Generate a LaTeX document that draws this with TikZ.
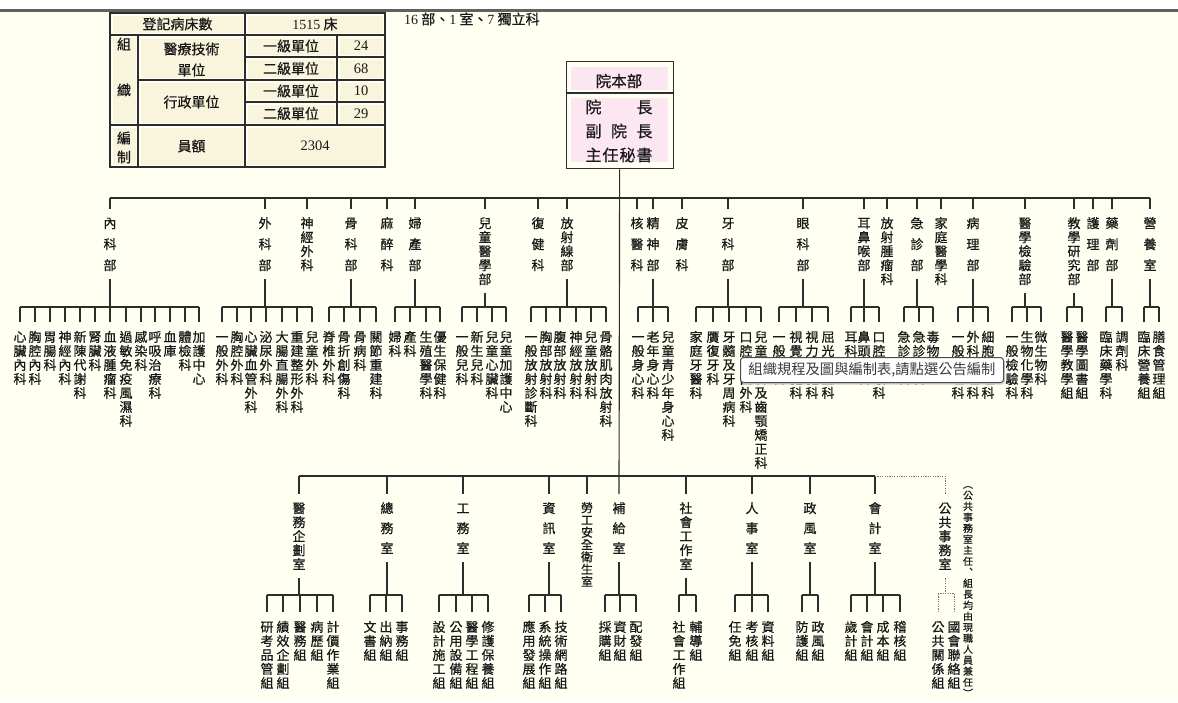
\documentclass[tikz,border=0pt]{standalone}
\usepackage{fontspec}
\setmainfont{Liberation Serif}
\newfontfamily\cjk[FakeBold=0.6]{Noto Sans CJK TC}
\newfontfamily\cjktip{Noto Sans CJK TC}
\newcommand\fs[1]{\fontsize{#1}{#1}\selectfont}
\ExplSyntaxOn
\tl_new:N \l_vtx_tl
\NewDocumentCommand\vt{O{14pt}m}{
  \tl_set:Nx \l_vtx_tl {#2}
  \vbox{
    \baselineskip=#1\relax
    \lineskiplimit=-100pt\relax
    \lineskip=0pt\relax
    \tl_map_inline:Nn \l_vtx_tl {\hbox~to~1em{\hss\rule[-0.12em]{0pt}{1em}##1\hss}}
  }
}
\ExplSyntaxOff
\definecolor{bgc}{RGB}{255,255,242}
\definecolor{cellc}{RGB}{249,244,220}
\definecolor{pinkc}{RGB}{252,230,242}
\definecolor{lnc}{RGB}{45,45,45}
\definecolor{tx}{RGB}{25,25,25}
\tikzset{
  conn/.style={draw=lnc, line width=1.15pt},
  dotconn/.style={draw=lnc!65, line width=1pt, dash pattern=on 1.2pt off 1.2pt},
  dept/.style={anchor=north, inner xsep=0pt, inner ysep=7.5pt, font=\cjk\fs{13}, text=tx},
  kid/.style={anchor=north, inner xsep=0pt, inner ysep=8.2pt, font=\cjk\fs{13}, text=tx},
  tt/.style={font=\cjk\fs{14}, text=tx, inner sep=0pt},
  tbl/.style={draw=lnc, line width=1.2pt},
  hqt/.style={font=\cjk\fs{16}, text=tx, inner sep=0pt},
}
% #1 style, #2 parent, #3 bus y, #4 kid north y, #5 count, #6 list
\newcommand\kids[6][conn]{%
  \coordinate (#2-bus) at (0,#3);
  \foreach \x/\lb [count=\i] in {#6}{%
    \node[kid] (#2-\i) at (\x,#4) {\vt{\lb}};
    \draw[#1] (#2-\i.north) -- (#2-\i.north |- #2-bus);
  }
  \draw[#1] (#2-1.north |- #2-bus) -- (#2-#5.north |- #2-bus);
  \draw[#1] (#2.south) -- (#2.south |- #2-bus);
}
\begin{document}
\begin{tikzpicture}[x=1pt,y=-1pt]
\useasboundingbox (0,0) rectangle (1178,702);
\fill[bgc] (0,0) rectangle (1178,702);
\fill[white] (0,0) rectangle (1178,10);
\draw[line width=2.2pt, draw=gray!75!black] (0,10.5) -- (1178,10.5);

% ---------- summary table ----------
\foreach \a/\b/\c/\d in {110/13/245/35, 245/13/385/35, 110/35/138/125, 138/35/245/80, 138/80/245/125, 245/35/337/57, 337/35/385/57, 245/57/337/80, 337/57/385/80, 245/80/337/102, 337/80/385/102, 245/102/337/125, 337/102/385/125, 110/125/138/167, 138/125/245/167, 245/125/385/167}
  \fill[cellc] (\a+2.5,\b+2.5) rectangle (\c-2.5,\d-2.5);
\draw[tbl] (110,13) rectangle (385,167);
\draw[tbl] (110,35) -- (385,35);
\draw[tbl] (245,57) -- (385,57);
\draw[tbl] (138,80) -- (385,80);
\draw[tbl] (245,102) -- (385,102);
\draw[tbl] (110,125) -- (385,125);
\draw[tbl] (138,35) -- (138,167);
\draw[tbl] (245,13) -- (245,167);
\draw[tbl] (337,35) -- (337,125);
\node[tt] (t1) at (177.5,24) {登記病床數};
\node[tt] (t2) at (315,24) {{\rmfamily 1515} 床};
\node[tt] (t3) at (124,44) {組};
\node[tt] (t4) at (124,90) {織};
\node[tt] (t5) at (191.5,49) {醫療技術};
\node[tt] (t6) at (191.5,70) {單位};
\node[tt] (t7) at (191.5,102) {行政單位};
\node[tt] (t8) at (291,46) {一級單位};
\node[tt] (t9) at (291,68.5) {二級單位};
\node[tt] (t10) at (291,91) {一級單位};
\node[tt] (t11) at (291,113.5) {二級單位};
\node[tt, font=\rmfamily\fs{14.5}] (t12) at (361,46) {24};
\node[tt, font=\rmfamily\fs{14.5}] (t13) at (361,68.5) {68};
\node[tt, font=\rmfamily\fs{14.5}] (t14) at (361,91) {10};
\node[tt, font=\rmfamily\fs{14.5}] (t15) at (361,113.5) {29};
\node[tt] (t16) at (124,138) {編};
\node[tt] (t17) at (124,157) {制};
\node[tt] (t18) at (191.5,146) {員額};
\node[tt, font=\rmfamily\fs{14.5}] (t19) at (315,146) {2304};
\node[tt, anchor=west, font=\cjk\fs{14}] (sum) at (404,19) {{\rmfamily 16} 部、{\rmfamily 1} 室、{\rmfamily 7} 獨立科};

% ---------- head office ----------
\fill[pinkc] (570.5,67) rectangle (667.5,90);
\fill[pinkc] (570.5,98) rectangle (667.5,162);
\node[draw=lnc, line width=1.3pt, minimum width=107pt, minimum height=107pt, inner sep=0pt, anchor=north west] (hq) at (565.5,61) {};
\draw[conn] (hq.west |- 0,93) -- (hq.east |- 0,93);
\node[hqt, font=\cjk\fs{15.5}] (hq1) at (619,81) {院本部};
\node[hqt] (hq2) at (619,107) {\makebox[67pt]{院\hfill 長}};
\node[hqt] (hq3) at (619,131) {\makebox[67pt]{副\hfill 院\hfill 長}};
\node[hqt] (hq4) at (619,155) {\makebox[67pt]{主\hfill 任\hfill 秘\hfill 書}};

% ---------- medical departments ----------
\coordinate (tb) at (0,198);
\node[dept] (nk) at (110,209) {\vt[21pt]{內科部}};
\node[dept] (wk) at (265,209) {\vt[21pt]{外科部}};
\node[dept] (sj) at (307,209) {\vt{神經外科}};
\node[dept] (gk) at (351,209) {\vt[21pt]{骨科部}};
\node[dept] (mz) at (387,209) {\vt[21pt]{麻醉科}};
\node[dept] (fc) at (415,209) {\vt[21pt]{婦產部}};
\node[dept] (et) at (485,209) {\vt{兒童醫學部}};
\node[dept] (fj) at (538,209) {\vt[21pt]{復健科}};
\node[dept] (fs) at (567,209) {\vt{放射線部}};
\node[dept] (hy) at (637,209) {\vt[21pt]{核醫科}};
\node[dept] (js) at (653,209) {\vt[21pt]{精神部}};
\node[dept] (pf) at (682,209) {\vt[21pt]{皮膚科}};
\node[dept] (yk) at (728,209) {\vt[21pt]{牙科部}};
\node[dept] (ek) at (803,209) {\vt[21pt]{眼科部}};
\node[dept] (eb) at (864,209) {\vt{耳鼻喉部}};
\node[dept] (fz) at (887,209) {\vt{放射腫瘤科}};
\node[dept] (jz) at (917,209) {\vt[21pt]{急診部}};
\node[dept] (jt) at (941,209) {\vt{家庭醫學科}};
\node[dept] (bl) at (973,209) {\vt[21pt]{病理部}};
\node[dept] (yj) at (1025,209) {\vt{醫學檢驗部}};
\node[dept] (jy) at (1074,209) {\vt{教學研究部}};
\node[dept] (hl) at (1093,209) {\vt[21pt]{護理部}};
\node[dept] (yz) at (1112,209) {\vt[21pt]{藥劑部}};
\node[dept] (yy) at (1150,209) {\vt[21pt]{營養室}};
\draw[conn] (nk.north |- tb) -- (yy.north |- tb);
\foreach \n in {nk,wk,sj,gk,mz,fc,et,fj,fs,hy,js,pf,yk,ek,eb,fz,jz,jt,bl,yj,jy,hl,yz,yy}
  \draw[conn] (\n.north |- tb) -- (\n.north);

\kids{nk}{307}{322}{13}{20/心臟內科,35/胸腔內科,50/胃腸科,65/神經內科,80/新陳代謝科,95/腎臟科,110/血液腫瘤科,126/過敏免疫風濕科,141/感染科,155/呼吸治療科,170/血庫,185/體檢科,199/加護中心}
\kids{wk}{307}{322}{7}{222/一般外科,237/胸腔外科,251/心臟血管外科,266/泌尿外科,282/大腸直腸外科,297/重建整形外科,312/兒童外科}
\kids{gk}{307}{322}{4}{329/脊椎外科,344/骨折創傷科,360/骨病科,376/關節重建科}
\kids{fc}{307}{322}{4}{395/婦科,410/產科,426/生殖醫學科,440/優生保健科}
\kids{et}{307}{322}{4}{462/一般兒科,477/新生兒科,492/兒童心臟科,506/兒童加護中心}
\kids{fs}{307}{322}{6}{531/一般放射診斷科,546/胸部放射科,560/腹部放射科,576/神經放射科,591/兒童放射科,606/骨骼肌肉放射科}
\kids{js}{307}{322}{3}{638/一般身心科,653/老年身心科,668/兒童青少年身心科}
\kids{yk}{307}{322}{5}{696/家庭牙醫科,713/贋復牙科,729/牙髓及牙周病科,746/口腔顎面外科,761/兒童牙科及齒顎矯正科}
\kids{ek}{307}{322}{4}{779/一般眼科,796/視覺復健科,812/視力保健科,828/屈光矯正科}
\kids{eb}{307}{322}{3}{851/耳科,864/鼻頭頸科,879/口腔咽喉科}
\kids{jz}{307}{322}{3}{904/急診內科,919/急診外科,933/毒物科}
\kids{bl}{307}{322}{3}{958/一般病理科,973/外科病理科,988/細胞病理科}
\kids{yj}{307}{322}{3}{1012/一般檢驗科,1027/生物化學科,1041/微生物科}
\kids{jy}{307}{322}{2}{1067/醫學教學組,1082/醫學圖書組}
\kids{yz}{307}{322}{2}{1106/臨床藥學科,1122/調劑科}
\kids{yy}{307}{322}{2}{1144/臨床營養組,1159/膳食管理組}

% ---------- administrative units ----------
\coordinate (bb) at (0,476);
\node[dept] (yw) at (299,494) {\vt{醫務企劃室}};
\node[dept] (zw) at (387,494) {\vt[20pt]{總務室}};
\node[dept] (gw) at (463,494) {\vt[20pt]{工務室}};
\node[dept] (zx) at (549,494) {\vt[20pt]{資訊室}};
\node[dept, font=\cjk\fs{12}] (lg) at (587,494) {\vt[12.3pt]{勞工安全衛生室}};
\node[dept] (bg) at (619,494) {\vt[20pt]{補給室}};
\node[dept] (sg) at (686,494) {\vt{社會工作室}};
\node[dept] (rs) at (752,494) {\vt[20pt]{人事室}};
\node[dept] (zf) at (810,494) {\vt[20pt]{政風室}};
\node[dept] (kj) at (875,494) {\vt[20pt]{會計室}};
\node[dept] (gg) at (945,494) {\vt{公共事務室}};
\draw[conn] (yw.north |- bb) -- (kj.north |- bb);
\foreach \n in {yw,zw,gw,zx,lg,sg,rs,zf,kj}
  \draw[conn] (\n.north |- bb) -- (\n.north);
\draw[conn] (hq.south) -- (bg.north);
\draw[dotconn] (kj.north |- bb) -- (gg.north |- bb) -- (gg.north);

\kids{yw}{595}{612}{5}{267/研考品管組,283/績效企劃組,300/醫務組,317/病歷組,333/計價作業組}
\kids{zw}{595}{612}{3}{370/文書組,386/出納組,402/事務組}
\kids{gw}{595}{612}{4}{439/設計施工組,456/公用設備組,472/醫學工程組,488/修護保養組}
\kids{zx}{595}{612}{3}{529/應用發展組,545/系統操作組,561/技術網路組}
\kids{bg}{595}{612}{3}{605/採購組,620/資財組,636/配發組}
\kids{sg}{595}{612}{2}{679/社會工作組,696/輔導組}
\kids{rs}{595}{612}{3}{735/任免組,752/考核組,768/資料組}
\kids{zf}{595}{612}{2}{802/防護組,818/政風組}
\kids{kj}{595}{612}{4}{851/歲計組,867/會計組,883/成本組,900/稽核組}
\kids[dotconn]{gg}{593}{612}{2}{938/公共關係組,954/國會聯絡組}

\node[anchor=north, inner sep=0pt, font=\cjk\fs{10}, text=tx] (note) at (968,479) {\vt[11pt]{︵公共事務室主任︑組長均由現職人員兼任︶}};

% ---------- tooltip ----------
\fill[gray!35, rounded corners=3pt] (742,359.5) rectangle (1005,384.5);
\node[draw=gray!60!black, fill=white, rounded corners=3pt, line width=1pt, anchor=north west, minimum width=263pt, minimum height=25pt, inner sep=0pt, font=\cjktip\fs{14.3}, text=tx!85] (tip) at (740,357) {組織規程及圖與編制表,請點選公告編制};
\end{tikzpicture}
\end{document}
